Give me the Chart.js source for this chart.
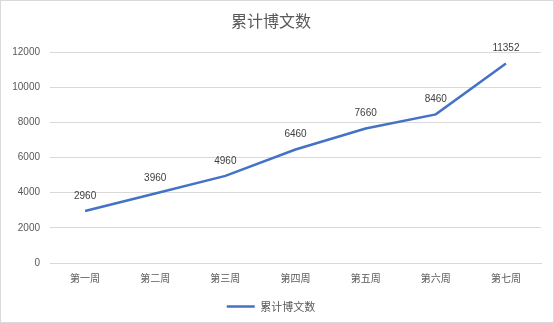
<!DOCTYPE html>
<html><head><meta charset="utf-8">
<script src="https://cdn.jsdelivr.net/npm/chart.js@4/dist/chart.umd.min.js"></script>
<style>
html,body{margin:0;padding:0;background:#fff;}
#wrap{position:absolute;left:0;top:0;width:552px;height:321px;border:1px solid #d9d9d9;background:#fff;}
canvas{display:block;}
</style></head><body>
<div id="wrap"><canvas id="c" width="552" height="321"></canvas></div>
<script>
const categories = ["第一周","第二周","第三周","第四周","第五周","第六周","第七周"];
const seriesName = "累计博文数";
const values = [2960, 3960, 4960, 6460, 7660, 8460, 11352];
const yTicks = [0, 2000, 4000, 6000, 8000, 10000, 12000];

const fontFam = "'Noto Sans CJK SC','Liberation Sans',sans-serif";
const labelPlugin = {
  id: 'dataLabels',
  afterDatasetsDraw(chart) {
    const ctx = chart.ctx;
    const meta = chart.getDatasetMeta(0);
    ctx.save();
    ctx.font = "10px 'Liberation Sans', sans-serif";
    ctx.fillStyle = '#404040';
    ctx.textAlign = 'center';
    ctx.textBaseline = 'bottom';
    meta.data.forEach((pt, i) => {
      ctx.fillText(String(chart.data.datasets[0].data[i]), pt.x, pt.y - 10);
    });
    ctx.restore();
  }
};

new Chart(document.getElementById('c'), {
  type: 'line',
  data: {
    labels: categories,
    datasets: [{
      label: seriesName,
      data: values,
      borderColor: '#4472C4',
      backgroundColor: '#4472C4',
      borderWidth: 2.5,
      pointRadius: 0,
      pointHoverRadius: 0,
      tension: 0,
      pointStyle: 'line'
    }]
  },
  options: {
    responsive: false,
    animation: false,
    devicePixelRatio: 1,
    layout: { padding: { left: 0, right: 12, top: 0, bottom: 0 } },
    plugins: {
      title: {
        display: true,
        text: seriesName,
        color: '#595959',
        font: { family: fontFam, size: 16, weight: 'normal' },
        padding: { top: 10, bottom: 22 }
      },
      legend: {
        position: 'bottom',
        labels: {
          usePointStyle: true,
          pointStyleWidth: 28,
          boxHeight: 10,
          color: '#595959',
          font: { family: fontFam, size: 11 },
          padding: 8
        }
      },
      tooltip: { enabled: false }
    },
    scales: {
      x: {
        offset: true,
        grid: { display: false, drawTicks: false },
        border: { display: true, color: '#d9d9d9' },
        ticks: { color: '#595959', font: { family: fontFam, size: 10 }, padding: 9, maxRotation: 0 }
      },
      y: {
        min: 0, max: 12000,
        afterBuildTicks(scale) { scale.ticks = yTicks.map(v => ({ value: v })); },
        afterFit(scale) { scale.width = 49; },
        grid: { color: '#d9d9d9', drawTicks: false },
        border: { display: false },
        ticks: { color: '#595959', font: { family: "'Liberation Sans', sans-serif", size: 10 }, padding: 10,
          callback: (v) => String(v) }
      }
    }
  },
  plugins: [labelPlugin]
});
</script>
</body></html>
